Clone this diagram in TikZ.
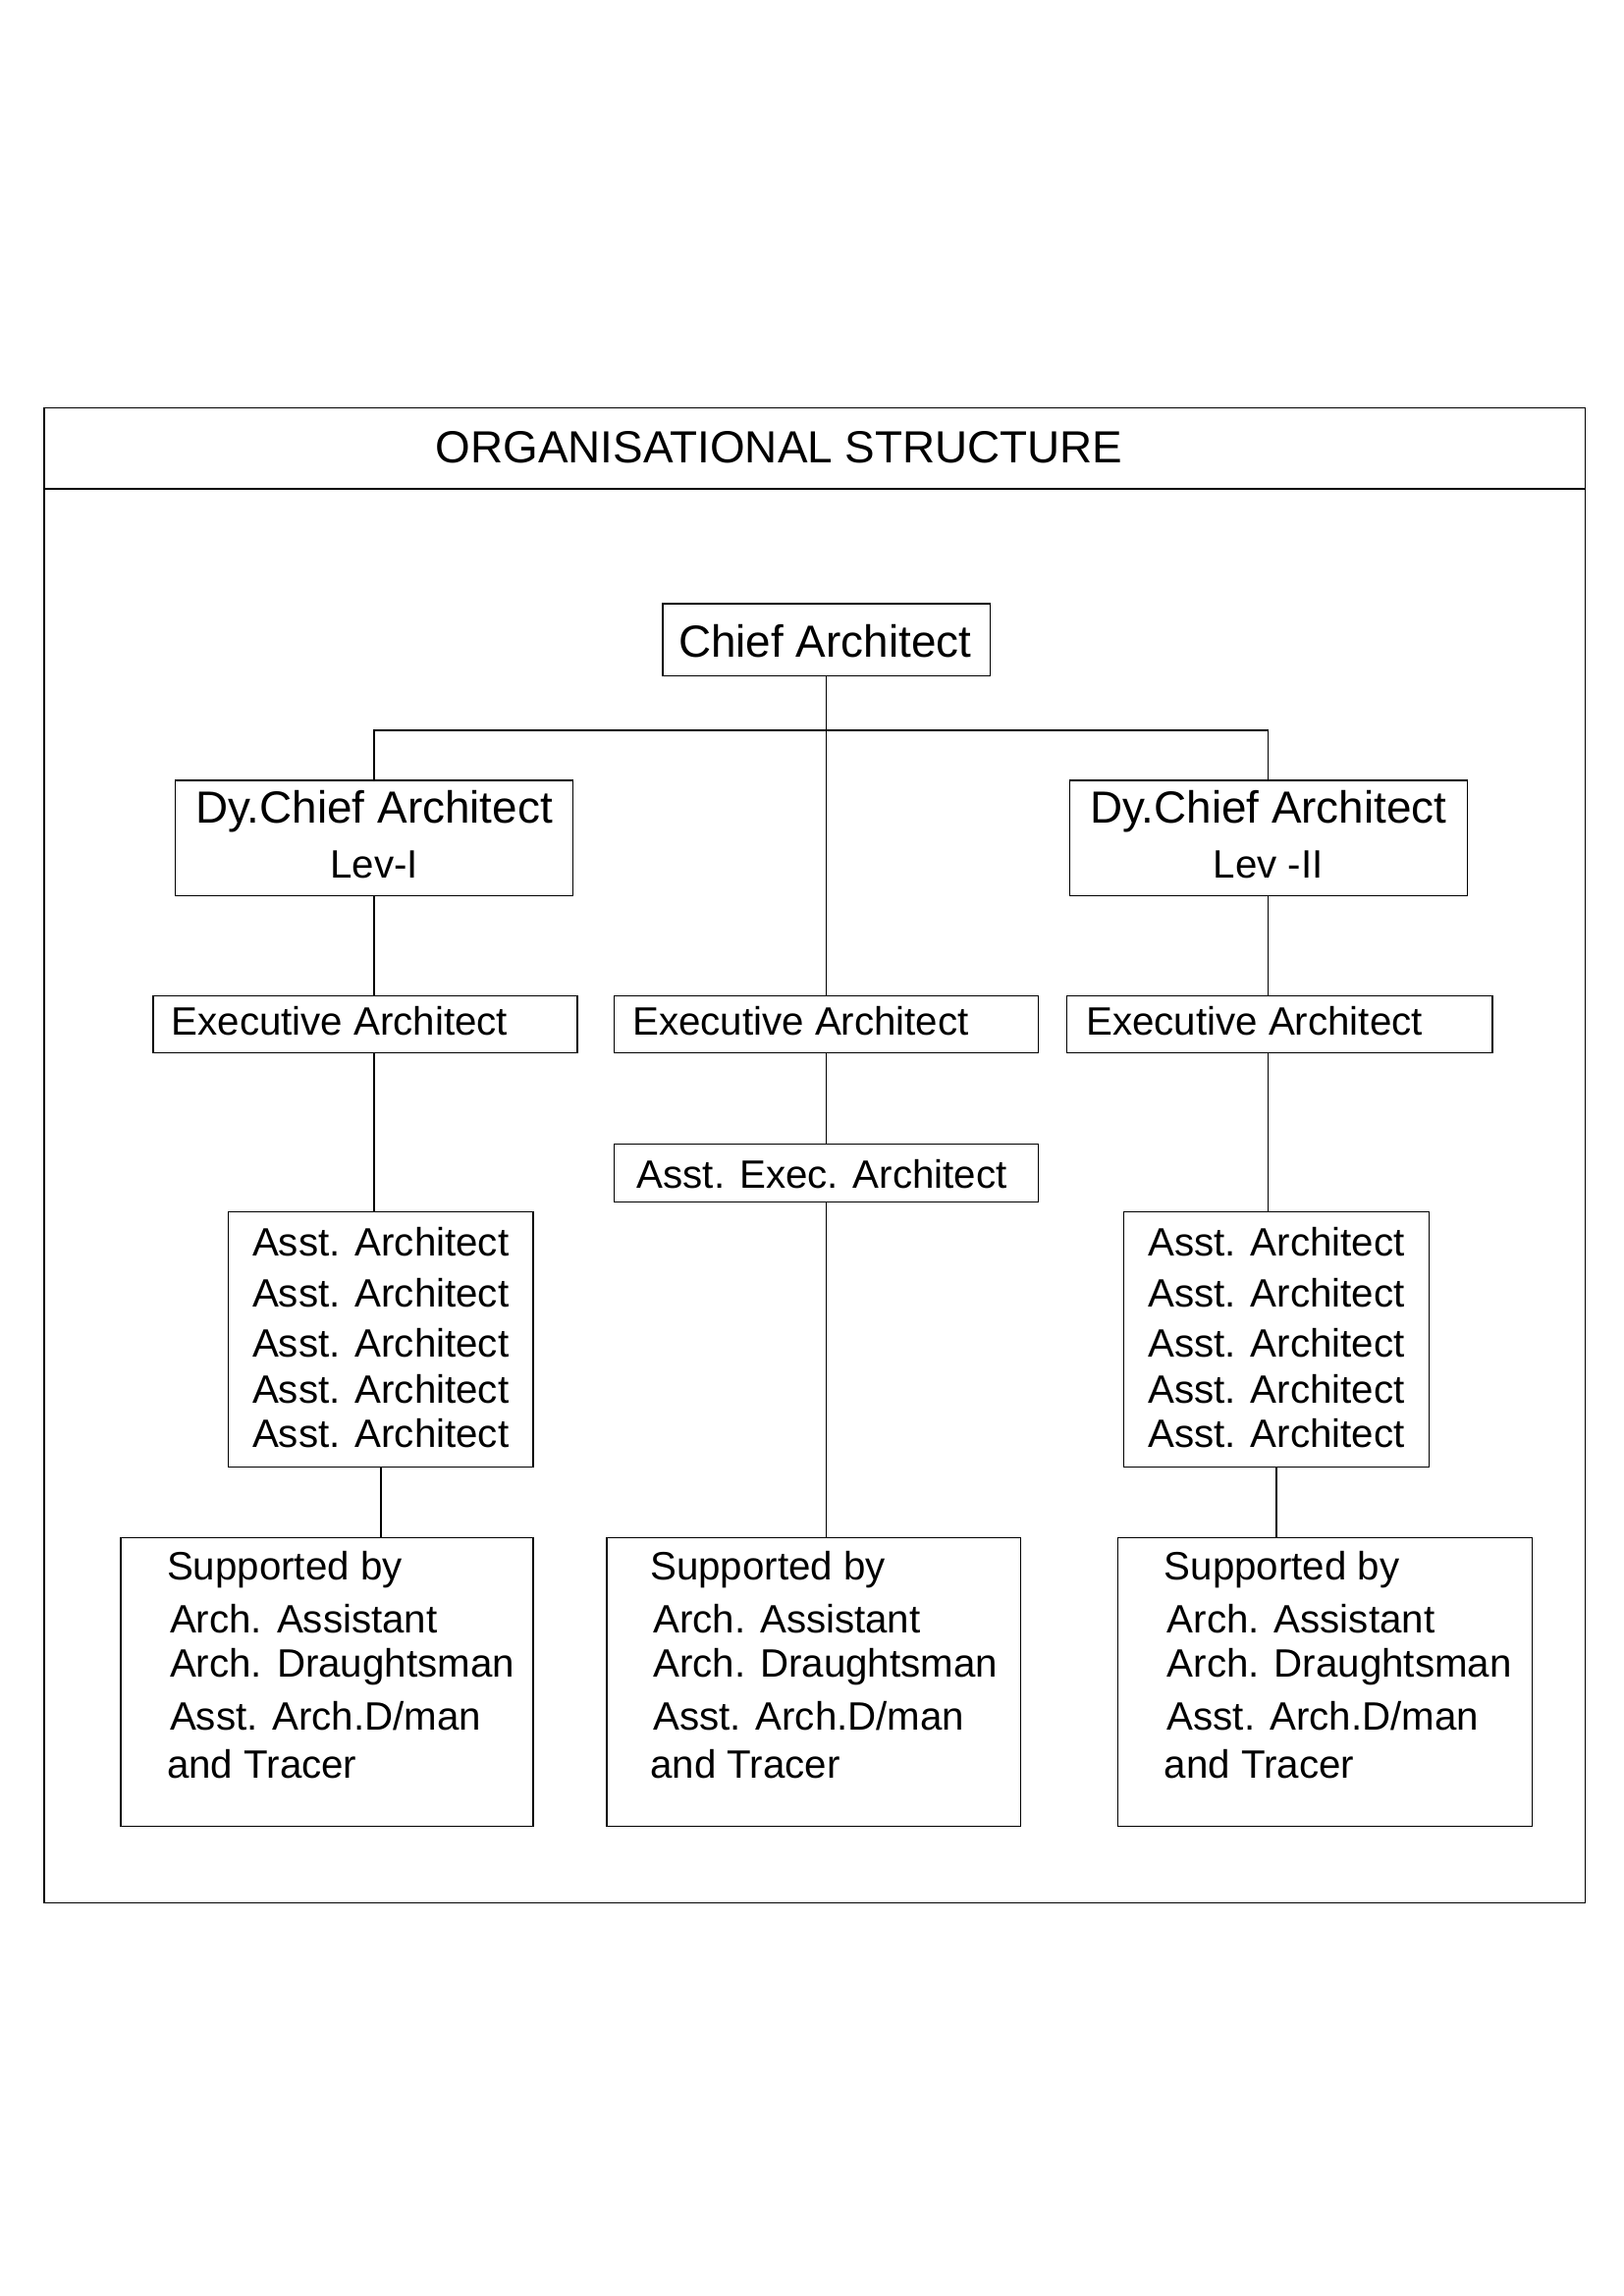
\documentclass[tikz,border=0pt]{standalone}
\usepackage{fontspec}
\setmainfont{Liberation Sans}
\usetikzlibrary{fit}
\begin{document}
\begin{tikzpicture}[x=0.54pt,y=-0.54pt,
  bx/.style={draw,inner sep=0pt,line width=0.5pt},
  ln/.style={line width=0.5pt},
  tl/.style={anchor=west,inner sep=0pt,font=\fontsize{14.5}{17}\selectfont},
  big/.style={inner sep=0pt,font=\fontsize{16.5}{19}\selectfont}]
\useasboundingbox (0,0) rectangle (1102,1559);
\node[bx,fit={(30,277)(1076,1292)}] (frame) {};
\draw[ln] (30,332) -- (1076,332);
\node[big] (title) at (529,304) {ORGANISATIONAL STRUCTURE};
\node[bx,fit={(450,410)(672,459)}] (chief) {};
\node[big] at (560,435) {Chief Architect};
\node[bx,fit={(119,530)(389,608)}] (dyl) {};
\node[big] at (254,551) {Dy.Chief Architect};
\node[tl,anchor=center] at (254,587) {Lev-I};
\node[bx,fit={(726,530)(996,608)}] (dyr) {};
\node[big] at (861,551) {Dy.Chief Architect};
\node[tl,anchor=center] at (861,587) {Lev -II};
\node[bx,fit={(104,676)(392,715)}] (exl) {};
\node[tl] at (116,693) {Executive Architect};
\node[bx,fit={(417,676)(705,715)}] (exm) {};
\node[tl] at (429,693) {Executive Architect};
\node[bx,fit={(724,676)(1013,715)}] (exr) {};
\node[tl] at (737,693) {Executive Architect};
\node[bx,fit={(417,777)(705,816)}] (aem) {};
\node[tl] at (432,797) {Asst. Exec. Architect};
\node[bx,fit={(155,823)(362,996)}] (asl) {};
\node[bx,fit={(763,823)(970,996)}] (asr) {};
\foreach \y in {843,878,912,943,973}{
  \node[tl] at (171,\y) {Asst. Architect};
  \node[tl] at (779,\y) {Asst. Architect};}
\node[bx,fit={(82,1044)(362,1240)}] (sul) {};
\node[bx,fit={(412,1044)(693,1240)}] (sum) {};
\node[bx,fit={(759,1044)(1040,1240)}] (sur) {};
\foreach \x in {113,441,790}{
  \node[tl] at (\x,1066) {Supported by};
  \node[tl] at (\x+2,1099) {Arch. Assistant};
  \node[tl] at (\x+2,1132) {Arch. Draughtsman};
  \node[tl] at (\x+2,1165) {Asst. Arch.D/man};
  \node[tl] at (\x,1198) {and Tracer};}
\coordinate (bus) at (560,496);
\draw[ln] (chief.south) -- (exm.north);
\draw[ln] (dyl.north) |- (bus) -| (dyr.north);
\draw[ln] (dyl.south) -- (dyl.south|-exl.north);
\draw[ln] (dyl.south|-exl.south) -- (dyl.south|-asl.north);
\draw[ln] (asl.south) -- (asl.south|-sul.north);
\draw[ln] (dyr.south) -- (dyr.south|-exr.north);
\draw[ln] (dyr.south|-exr.south) -- (dyr.south|-asr.north);
\draw[ln] (asr.south) -- (asr.south|-sur.north);
\draw[ln] (exm.south) -- (aem.north);
\draw[ln] (aem.south) -- (aem.south|-sum.north);
\end{tikzpicture}
\end{document}
